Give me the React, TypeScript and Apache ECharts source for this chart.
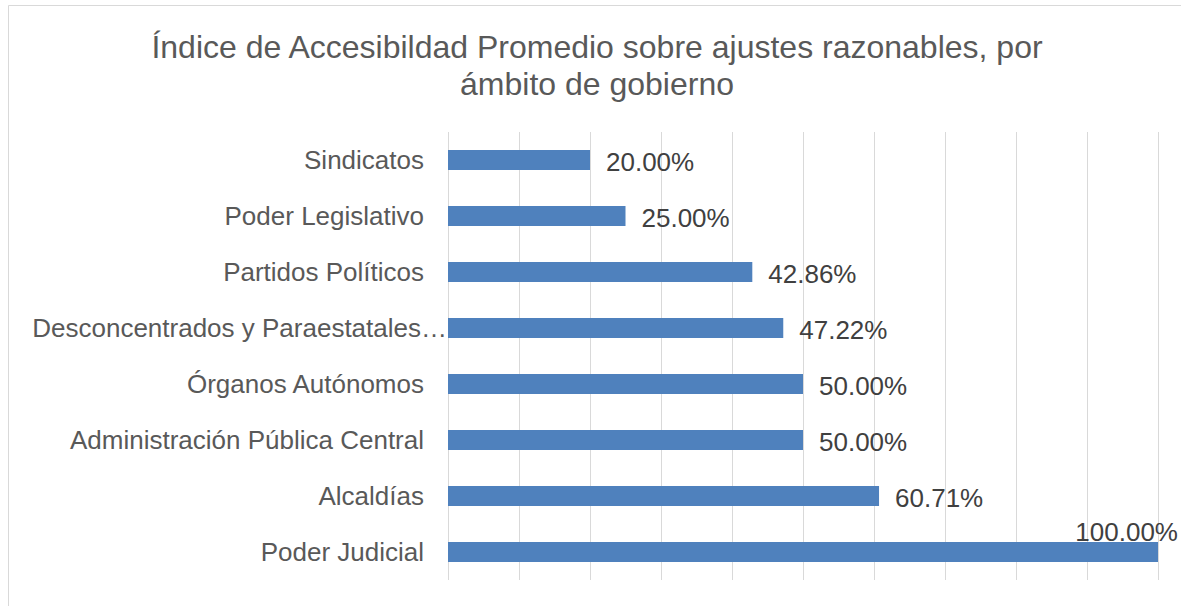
import React, { useEffect, useRef } from "react";
import * as echarts from "echarts";

const TITLE_LINES = [
  "Índice de Accesibildad Promedio sobre ajustes razonables, por",
  "ámbito de gobierno",
];

const CATEGORIES = [
  "Sindicatos",
  "Poder Legislativo",
  "Partidos Políticos",
  "Desconcentrados y Paraestatales…",
  "Órganos Autónomos",
  "Administración Pública Central",
  "Alcaldías",
  "Poder Judicial",
];

const VALUES = [20.0, 25.0, 42.86, 47.22, 50.0, 50.0, 60.71, 100.0];

// index of the category label that overflows into the axis margin
const LONG_LABEL_INDEX = 3;

const FONT = "'Liberation Sans', Arial, sans-serif";
const TEXT_COLOR = "#595959";
const LABEL_COLOR = "#404040";
const BAR_COLOR = "#4f81bd";
const GRID_COLOR = "#d9d9d9";

export default function App() {
  const ref = useRef<HTMLDivElement>(null);

  useEffect(() => {
    if (!ref.current) return;
    const chart = echarts.init(ref.current, undefined, { renderer: "svg" });

    const fmt = (v: number) => v.toFixed(2) + "%";

    const seriesData = VALUES.map((v) => {
      if (v >= 100) {
        return {
          value: v,
          label: {
            position: ["100%", 0],
            align: "right",
            verticalAlign: "bottom",
            offset: [20, 3],
          },
        };
      }
      return { value: v };
    });

    const catAxisBase = {
      type: "category",
      data: CATEGORIES,
      inverse: true,
      position: "left",
      axisLine: { show: false },
      axisTick: { show: false },
      splitLine: { show: false },
    };

    chart.setOption({
      animation: false,
      backgroundColor: "#ffffff",
      textStyle: { fontFamily: FONT },
      graphic: [
        {
          type: "rect",
          shape: { x: 8.5, y: 5.5, width: 1300, height: 800 },
          style: { fill: "none", stroke: GRID_COLOR, lineWidth: 1 },
          silent: true,
        },
        {
          type: "text",
          x: 597,
          y: 28,
          style: {
            text: TITLE_LINES.join("\n"),
            align: "center",
            verticalAlign: "top",
            fontFamily: FONT,
            fontSize: 32,
            lineHeight: 37,
            fill: TEXT_COLOR,
          },
          silent: true,
        },
      ],
      grid: { left: 448, right: 23, top: 132, bottom: 26, containLabel: false },
      xAxis: {
        type: "value",
        min: 0,
        max: 100,
        interval: 10,
        axisLabel: { show: false },
        axisLine: { show: false },
        axisTick: { show: false },
        splitLine: { show: true, lineStyle: { color: GRID_COLOR, width: 1 } },
      },
      yAxis: [
        {
          ...catAxisBase,
          axisLabel: {
            margin: 24,
            fontSize: 26,
            color: TEXT_COLOR,
            fontFamily: FONT,
            formatter: (val: string, idx: number) =>
              idx === LONG_LABEL_INDEX ? "" : val,
          },
        },
        {
          ...catAxisBase,
          axisLabel: {
            margin: 1,
            fontSize: 26,
            color: TEXT_COLOR,
            fontFamily: FONT,
            formatter: (val: string, idx: number) =>
              idx === LONG_LABEL_INDEX ? val : "",
          },
        },
      ],
      series: [
        {
          type: "bar",
          yAxisIndex: 0,
          data: seriesData,
          barWidth: 20,
          itemStyle: { color: BAR_COLOR },
          label: {
            show: true,
            position: "right",
            distance: 16,
            offset: [0, 2],
            fontSize: 26,
            fontFamily: FONT,
            color: LABEL_COLOR,
            formatter: (p: any) => fmt(p.value),
          },
        },
      ],
    });

    return () => chart.dispose();
  }, []);

  return (
    <div
      ref={ref}
      style={{ position: "absolute", left: 0, top: 0, width: 1181, height: 606 }}
    />
  );
}
